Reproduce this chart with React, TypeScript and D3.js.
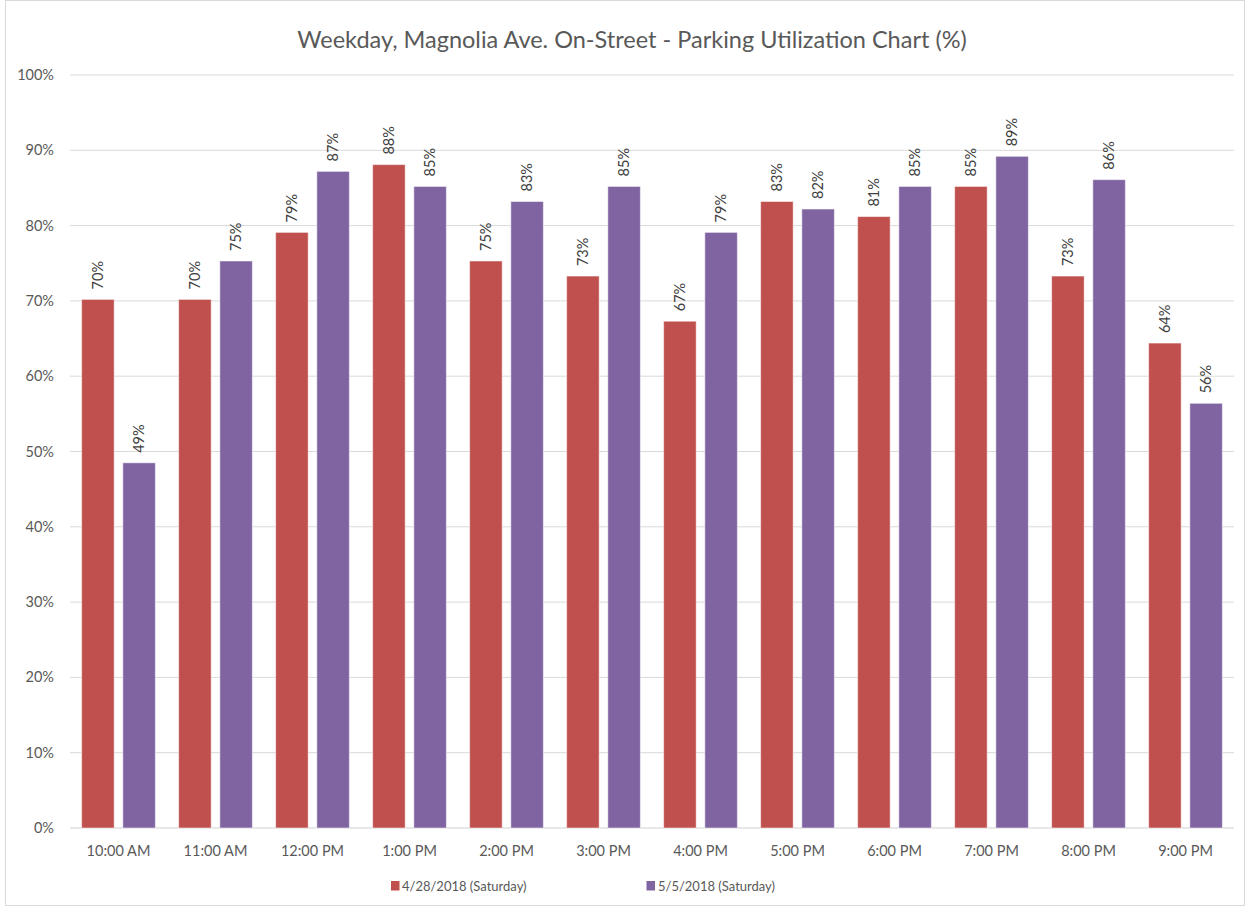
import React from "react";
import * as d3 from "d3";

const categories = ["10:00 AM", "11:00 AM", "12:00 PM", "1:00 PM", "2:00 PM", "3:00 PM", "4:00 PM", "5:00 PM", "6:00 PM", "7:00 PM", "8:00 PM", "9:00 PM"];
const series1Name = "4/28/2018 (Saturday)";
const series2Name = "5/5/2018 (Saturday)";
const series1 = [70.2, 70.2, 79.1, 88.1, 75.3, 73.3, 67.3, 83.2, 81.2, 85.2, 73.3, 64.4];
const series2 = [48.5, 75.3, 87.2, 85.2, 83.2, 85.2, 79.1, 82.2, 85.2, 89.2, 86.1, 56.4];
const yTicks = [0, 10, 20, 30, 40, 50, 60, 70, 80, 90, 100];
const title = "Weekday, Magnolia Ave. On-Street - Parking Utilization Chart (%)";

const W = 1250, H = 909;
const FONT = "Lato, 'Open Sans', sans-serif";
const C1 = "#C0504D", C2 = "#8064A2";

export default function App() {
  const left = 70, right = 1234, top = 75, bottom = 828;
  const x0 = d3.scaleBand<string>().domain(categories).range([left, right]).paddingInner(0.24).paddingOuter(0.12);
  const x1 = d3.scaleBand<number>().domain([0, 1]).range([0, x0.bandwidth()]).paddingInner(0.21);
  const y = d3.scaleLinear().domain([0, 100]).range([bottom, top]);
  const seriesList = [{ v: series1, c: C1 }, { v: series2, c: C2 }];
  return (
    <svg width={W} height={H} style={{ position: "absolute", left: 0, top: 0, background: "#fff" }}>
      <rect x={5.5} y={0.5} width={1239} height={905} fill="#fff" stroke="#d9d9d9" />
      <text x={632} y={48} textAnchor="middle" fontFamily={FONT} fontSize={23.5} fill="#595959">{title}</text>
      {yTicks.map((t) => (
        <g key={t}>
          <line x1={left} x2={right} y1={y(t)} y2={y(t)} stroke={t === 0 ? "#d0d0d0" : "#d9d9d9"} strokeWidth={1} />
          <text x={54} y={y(t) + 5} textAnchor="end" fontFamily={FONT} fontSize={14.5} fill="#595959">{t + "%"}</text>
        </g>
      ))}
      {categories.map((c, i) => (
        <g key={c}>
          {seriesList.map((s, j) => {
            const bx = (x0(c) as number) + (x1(j) as number);
            const bw = x1.bandwidth();
            const v = s.v[i];
            const cx = bx + bw / 2;
            const ty = y(v) - 10;
            return (
              <g key={j}>
                <rect x={bx} y={y(v)} width={bw} height={bottom - y(v)} fill={s.c} stroke="#ffffff" strokeOpacity={0.5} strokeWidth={1} />
                <text transform={`translate(${cx + 5},${ty}) rotate(-90)`} fontFamily={FONT} fontSize={14.5} fill="#404040">{Math.round(v) + "%"}</text>
              </g>
            );
          })}
          <text x={(x0(c) as number) + x0.bandwidth() / 2} y={856} textAnchor="middle" fontFamily={FONT} fontSize={14.5} fill="#595959">{c}</text>
        </g>
      ))}
      <rect x={391} y={881} width={8.5} height={9.5} fill={C1} />
      <text x={402} y={891} fontFamily={FONT} fontSize={13} fill="#595959">{series1Name}</text>
      <rect x={646.5} y={881} width={8.5} height={9.5} fill={C2} />
      <text x={658} y={891} fontFamily={FONT} fontSize={13} fill="#595959">{series2Name}</text>
    </svg>
  );
}
